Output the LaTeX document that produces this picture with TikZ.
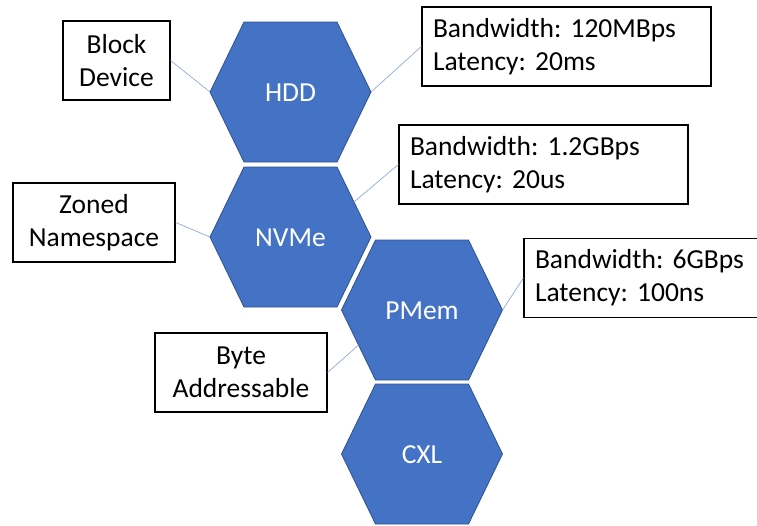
\documentclass[tikz,border=0pt]{standalone}
\usepackage{fontspec}
\setmainfont{Carlito}
\frenchspacing
\definecolor{hexfill}{HTML}{4472C4}
\definecolor{hexdraw}{HTML}{2F528F}
\definecolor{linkcol}{HTML}{8FAADC}
\tikzset{
  hexcellstyle/.style={fill=hexfill,draw=hexdraw,line width=0.8pt,line join=miter},
  hexlabel/.style={text=white,font=\fontsize{27.5}{33}\selectfont,inner sep=0pt},
  infobox/.style={draw=black,fill=white,line width=1.3pt,minimum height=79pt,
    inner xsep=11pt,inner ysep=0pt,font=\fontsize{27.5}{33}\selectfont},
  leftbox/.style={infobox,align=left,text width=267pt},
  centbox/.style={infobox,align=center,inner xsep=0pt},
  link/.style={draw=linkcol,line width=0.7pt}
}
\newcommand\hexcell[4]{%
  \path[hexcellstyle] ({#2-46.5},{#3-70}) -- ({#2+46.5},{#3-70}) -- ({#2+80.5},{#3})
    -- ({#2+46.5},{#3+70}) -- ({#2-46.5},{#3+70}) -- ({#2-80.5},{#3}) -- cycle;
  \coordinate (#1-w) at ({#2-80.5},{#3});
  \coordinate (#1-e) at ({#2+80.5},{#3});
  \coordinate (#1-ne) at ({#2+63.5},{#3-35});
  \coordinate (#1-sw) at ({#2-63.5},{#3+35});
  \node[hexlabel] (#1) at ({#2},{#3+1}) {#4};
}
\begin{document}
\begin{tikzpicture}[x=1pt,y=-1pt]
\useasboundingbox (0,0) rectangle (757,525);
\hexcell{hdd}{290.5}{92}{HDD}
\hexcell{nvme}{290.5}{237}{NVMe}
\hexcell{pmem}{422}{310}{PMem}
\hexcell{cxl}{422}{454}{CXL}

\node[centbox,minimum width=107pt] (block) at (116.5,60.5) {Block\\Device};
\node[leftbox,minimum width=289pt] (bw1) at (566.5,46.5) {Bandwidth: 120MBps\\Latency: 20ms};
\node[leftbox,minimum width=289pt] (bw2) at (543.5,164.5) {Bandwidth: 1.2GBps\\Latency: 20us};
\node[centbox,minimum width=162pt] (zoned) at (94,222.5) {Zoned\\Namespace};
\node[leftbox,minimum width=289pt] (bw3) at (668.5,278) {Bandwidth: 6GBps\\Latency: 100ns};
\node[centbox,minimum width=172pt] (byte) at (241,372.5) {Byte\\Addressable};

\draw[link] (block.east) -- (hdd-w);
\draw[link] (hdd-e) -- (bw1.west);
\draw[link] (zoned.east) -- (nvme-w);
\draw[link] (nvme-ne) -- (bw2.west);
\draw[link] (pmem-e) -- (bw3.west);
\draw[link] (byte.east) -- (pmem-sw);
\end{tikzpicture}
\end{document}
